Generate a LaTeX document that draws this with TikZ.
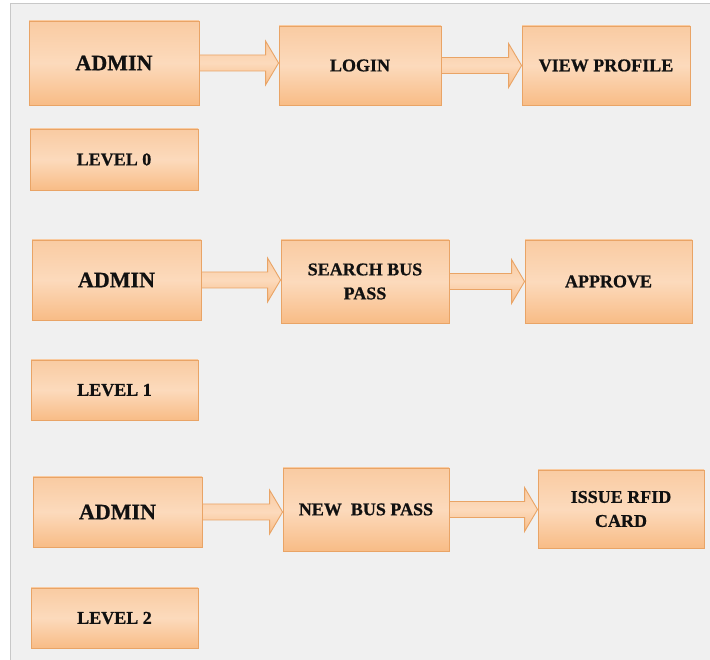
\documentclass[tikz,border=0pt]{standalone}
\usepackage{fontspec}
\setmainfont[BoldFeatures={FakeBold=0.7}]{Liberation Serif}
\usetikzlibrary{calc}
\definecolor{panel}{HTML}{F0F0F0}
\definecolor{frameline}{HTML}{C8C8C8}
\definecolor{boxline}{HTML}{E9A466}
\definecolor{boxtop}{HTML}{F9CBA2}
\definecolor{boxmid}{HTML}{FCDABC}
\definecolor{boxbot}{HTML}{F8BC86}
\definecolor{inktext}{HTML}{111111}
\tikzset{
  box/.style={draw=boxline, line width=0.9pt, top color=boxtop, bottom color=boxbot,
    middle color=boxmid, inner sep=0pt, text=inktext, align=center,
    font=\bfseries\fontsize{18}{24}\selectfont},
  bigtext/.style={font=\bfseries\fontsize{22}{26}\selectfont},
  flow/.style={draw=boxline, line width=0.9pt, top color=boxtop, bottom color=boxbot,
    middle color=boxmid, line join=miter}
}
% block arrow from the east side of #1 to the west side of #2
\newcommand\blockarrow[2]{%
  \path[flow] let \p1=(#1.east), \p2=(#2.west) in
    (\x1,\y1+8pt) -- (\x2-13pt,\y1+8pt) -- (\x2-13pt,\y1+22pt) -- (\x2,\y1)
    -- (\x2-13pt,\y1-22pt) -- (\x2-13pt,\y1-8pt) -- (\x1,\y1-8pt) -- cycle;%
}
\begin{document}
\begin{tikzpicture}[x=1pt,y=1pt]
  \useasboundingbox (0,0) rectangle (710,660);
  \fill[white] (0,0) rectangle (710,660);
  \fill[panel] (10,0) rectangle (710,656);
  \draw[frameline, line width=1pt] (10,0) -- (10,656) -- (710,656);

  % level 0
  \node[box, bigtext, minimum width=170pt, minimum height=84pt] (a0) at (114,597) {ADMIN};
  \node[box, minimum width=162pt, minimum height=79pt] (login) at (360,594.5) {LOGIN};
  \node[box, minimum width=168pt, minimum height=79pt] (view) at (606,594.5) {VIEW PROFILE};
  \node[box, minimum width=168pt, minimum height=61pt] (l0) at (114,500.5) {LEVEL 0};

  % level 1
  \node[box, bigtext, minimum width=169pt, minimum height=80pt] (a1) at (116.5,380) {ADMIN};
  \node[box, minimum width=168pt, minimum height=83pt] (search) at (365,378.5) {SEARCH BUS\\PASS};
  \node[box, minimum width=167pt, minimum height=83pt] (approve) at (608.5,378.5) {APPROVE};
  \node[box, minimum width=167pt, minimum height=60pt] (l1) at (114.5,270) {LEVEL 1};

  % level 2
  \node[box, bigtext, minimum width=169pt, minimum height=70pt] (a2) at (117.5,148) {ADMIN};
  \node[box, minimum width=166pt, minimum height=83pt] (newpass) at (366,150.5) {NEW\ \ BUS PASS};
  \node[box, minimum width=166pt, minimum height=78pt] (rfid) at (621,151) {ISSUE RFID\\CARD};
  \node[box, minimum width=167pt, minimum height=60pt] (l2) at (114.5,42) {LEVEL 2};

  \blockarrow{a0}{login}
  \blockarrow{login}{view}
  \blockarrow{a1}{search}
  \blockarrow{search}{approve}
  \blockarrow{a2}{newpass}
  \blockarrow{newpass}{rfid}
\end{tikzpicture}
\end{document}
